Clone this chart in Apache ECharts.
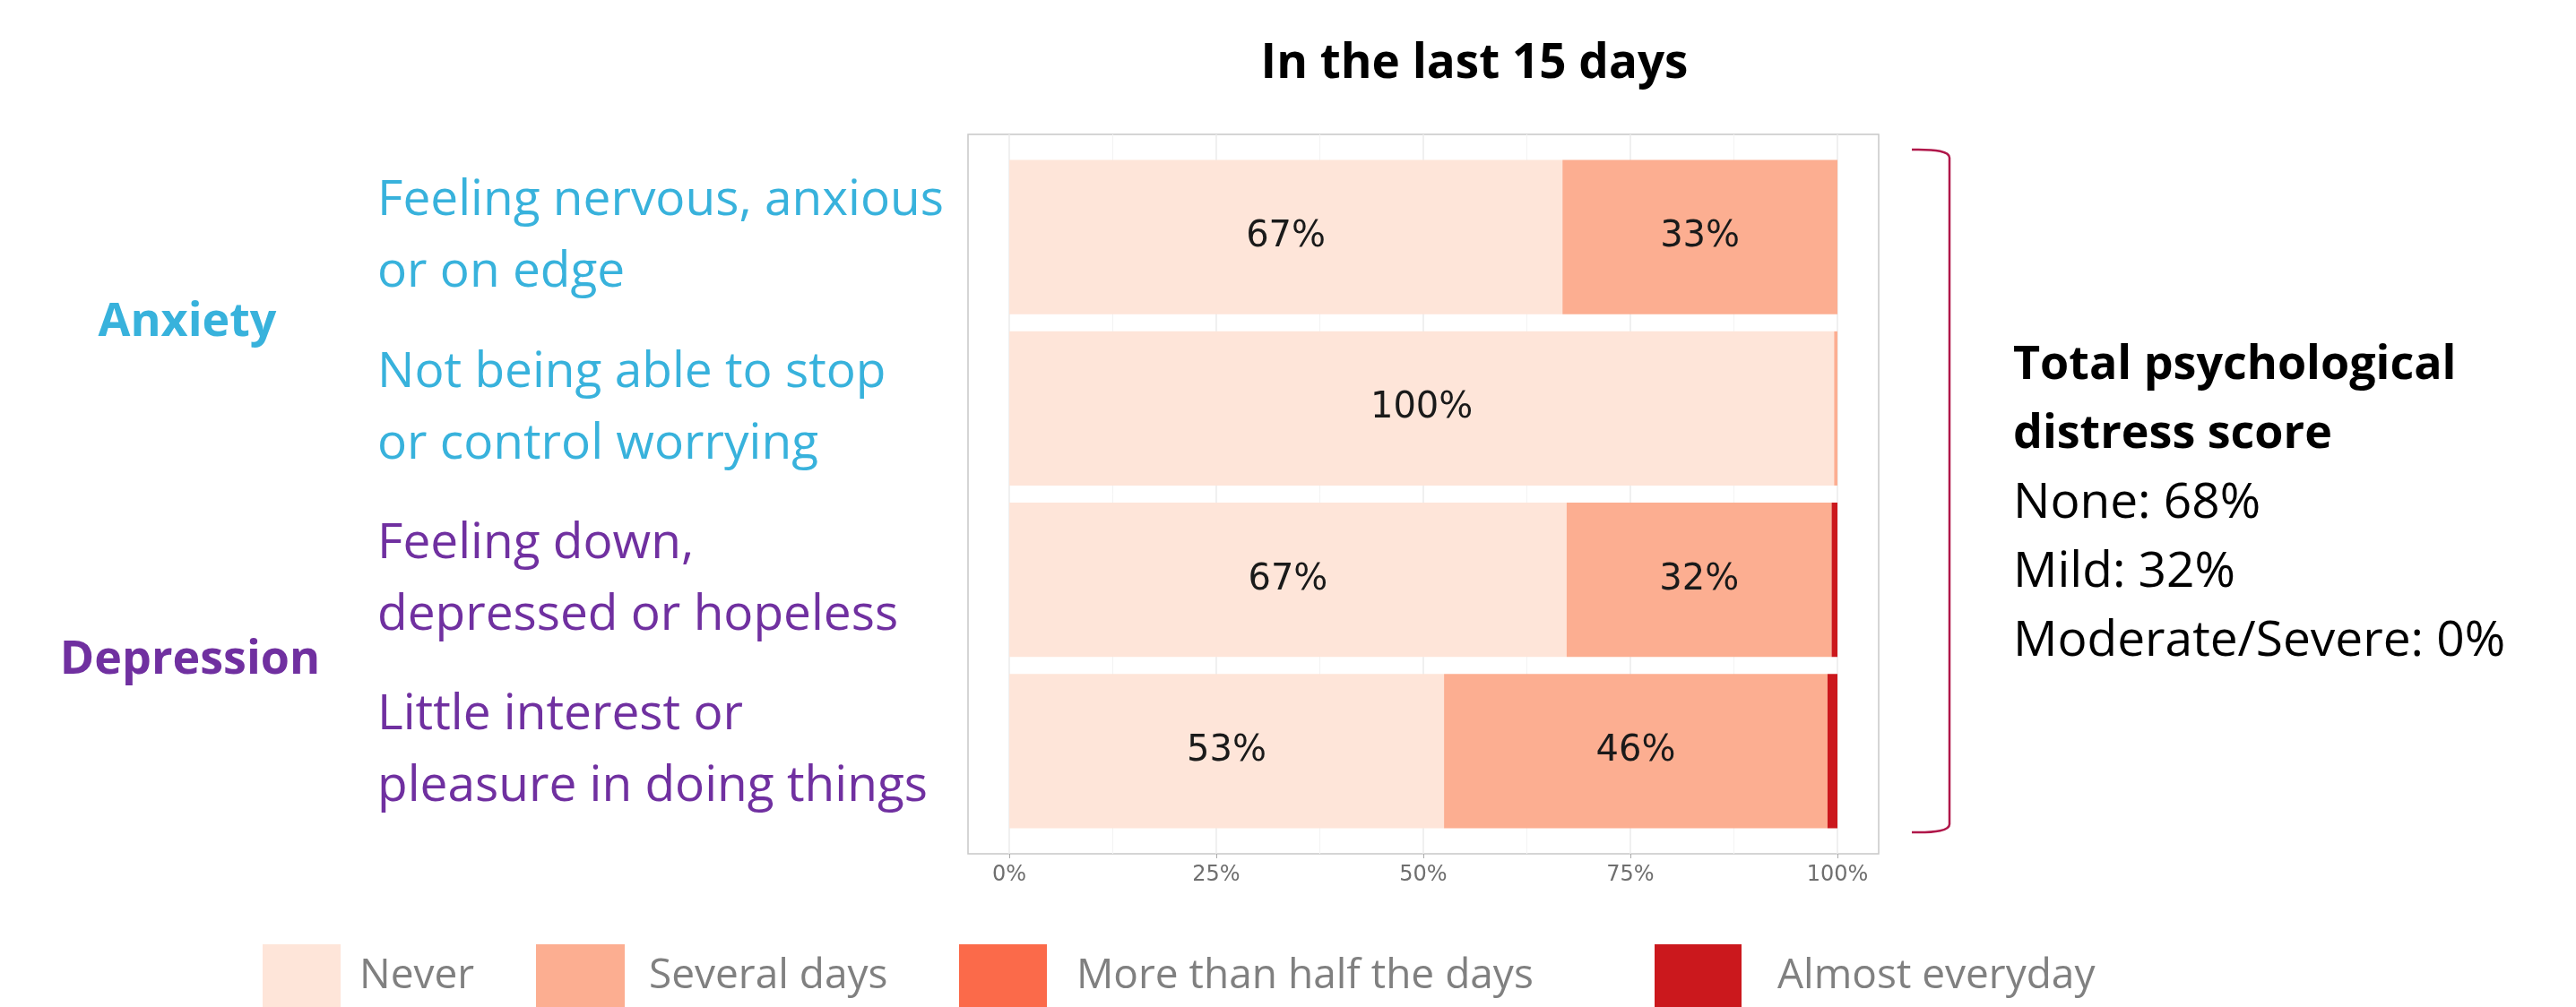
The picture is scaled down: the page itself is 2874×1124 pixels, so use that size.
<!DOCTYPE html>
<html>
<head>
<meta charset="utf-8">
<script src="https://cdn.jsdelivr.net/npm/echarts@6/dist/echarts.min.js"></script>
<style>
html,body{margin:0;padding:0;background:#fff;}
#chart{width:2874px;height:1124px;}
</style>
</head>
<body>
<div id="chart"></div>
<script>
// ---- data ----
const categories = [
  'Feeling nervous, anxious\nor on edge',
  'Not being able to stop\nor control worrying',
  'Feeling down,\ndepressed or hopeless',
  'Little interest or\npleasure in doing things'
];
const categoryGroup = ['Anxiety', 'Anxiety', 'Depression', 'Depression'];
const groups = ['Anxiety', 'Depression'];
const seriesNames = ['Never', 'Several days', 'More than half the days', 'Almost everyday'];
const never = [66.8, 99.6, 67.3, 52.5];
const severalDays = [33.2, 0.4, 32.0, 46.3];
const moreThanHalf = [0, 0, 0, 0];
const almostEveryday = [0, 0, 0.7, 1.2];
const titleText = 'In the last 15 days';
const distressTitle = ['Total psychological', 'distress score'];
const distressLevels = ['None', 'Mild', 'Moderate/Severe'];
const distressPct = [68, 32, 0];

// ---- styling ----
const seriesColors = ['#FEE5D9', '#FCAE91', '#FB6A4A', '#CB181D'];
const groupColors = {Anxiety: '#38B2DC', Depression: '#7030A0'};
const FONT = '"Open Sans", sans-serif';
const NUMFONT = '"DejaVu Sans", sans-serif';

const seriesData = [never, severalDays, moreThanHalf, almostEveryday];

const chart = echarts.init(document.getElementById('chart'), null, {renderer: 'canvas'});

const series = seriesNames.map((name, i) => ({
  name: name,
  type: 'bar',
  stack: 'total',
  xAxisIndex: 0,
  yAxisIndex: 0,
  barWidth: '90%',
  itemStyle: {color: seriesColors[i]},
  label: {
    show: true,
    position: 'inside',
    color: '#1a1a1a',
    fontFamily: NUMFONT,
    fontSize: 40,
    formatter: p => (p.value >= 5 ? Math.round(p.value) + '%' : '')
  },
  emphasis: {disabled: true},
  data: seriesData[i]
}));

const legendLayout = [
  {left: 293, w: 87, pad: 16},
  {left: 598, w: 99, pad: 22},
  {left: 1070, w: 98, pad: 28},
  {left: 1846, w: 97, pad: 35}
];

const legends = seriesNames.map((name, i) => ({
  data: [name],
  left: legendLayout[i].left,
  top: 1054,
  padding: 0,
  itemWidth: legendLayout[i].w,
  itemHeight: 72,
  icon: 'rect',
  selectedMode: false,
  textStyle: {
    color: '#808080',
    fontFamily: FONT,
    fontSize: 46,
    padding: [6, 0, 0, legendLayout[i].pad]
  }
}));

const BR = '#B0174A';
const graphics = [
  // panel border
  {type: 'rect', shape: {x: 1080, y: 150, width: 1016, height: 803}, style: {fill: 'none', stroke: '#C8C8C8', lineWidth: 1.5}, z: -1},
  // title
  {type: 'text', x: 1645, y: 72, style: {text: titleText, font: 'bold 53px ' + FONT, fill: '#000', textAlign: 'center', textVerticalAlign: 'middle'}},
  // group labels
  {type: 'text', x: 209, y: 360, style: {text: groups[0], font: 'bold 52px ' + FONT, fill: groupColors[groups[0]], textAlign: 'center', textVerticalAlign: 'middle'}},
  {type: 'text', x: 212, y: 737, style: {text: groups[1], font: 'bold 52px ' + FONT, fill: groupColors[groups[1]], textAlign: 'center', textVerticalAlign: 'middle'}},
  // bracket
  {type: 'bezierCurve', shape: {x1: 2133, y1: 167, cpx1: 2175, cpy1: 166, x2: 2175, y2: 176}, style: {fill: 'none', stroke: BR, lineWidth: 2.5}},
  {type: 'line', shape: {x1: 2175, y1: 176, x2: 2175, y2: 920}, style: {stroke: BR, lineWidth: 2.5}},
  {type: 'bezierCurve', shape: {x1: 2175, y1: 920, cpx1: 2175, cpy1: 930, x2: 2133, y2: 929}, style: {fill: 'none', stroke: BR, lineWidth: 2.5}}
];
distressTitle.forEach((t, i) => {
  graphics.push({type: 'text', x: 2246, y: 408 + i * 77, style: {text: t, font: 'bold 52px ' + FONT, fill: '#000', textAlign: 'left', textVerticalAlign: 'middle'}});
});
distressLevels.forEach((t, i) => {
  graphics.push({type: 'text', x: 2246, y: 562 + i * 77, style: {text: t + ': ' + distressPct[i] + '%', font: '55px ' + FONT, fill: '#000', textAlign: 'left', textVerticalAlign: 'middle'}});
});

const option = {
  backgroundColor: '#ffffff',
  animation: false,
  grid: [
    {left: 1126, width: 924, top: 169, height: 765, containLabel: false},
    {left: 1126, width: 924, top: 150, height: 803, containLabel: false}
  ],
  xAxis: [
    {type: 'value', gridIndex: 0, min: 0, max: 100, show: false},
    {
      type: 'value', gridIndex: 1, min: 0, max: 100, interval: 25,
      axisLine: {show: false},
      axisTick: {show: true, length: 5, lineStyle: {color: '#AAAAAA'}},
      axisLabel: {show: true, margin: 12, color: '#6f6f6f', fontFamily: NUMFONT, fontSize: 24, formatter: '{value}%'},
      splitLine: {show: true, lineStyle: {color: '#EBEBEB', width: 1.5}},
      minorTick: {show: false, splitNumber: 2},
      minorSplitLine: {show: true, lineStyle: {color: '#F3F3F3', width: 1}}
    }
  ],
  yAxis: [
    {
      type: 'category', gridIndex: 0, inverse: true, data: categories,
      axisLine: {show: false}, axisTick: {show: false}, splitLine: {show: false},
      axisLabel: {
        show: true, align: 'left', margin: 705,
        fontFamily: FONT, fontSize: 55, lineHeight: 80,
        color: (v, i) => groupColors[categoryGroup[i]]
      }
    },
    {type: 'value', gridIndex: 1, min: 0, max: 1, show: false}
  ],
  legend: legends,
  series: series,
  graphic: graphics
};
chart.setOption(option);
</script>
</body>
</html>
